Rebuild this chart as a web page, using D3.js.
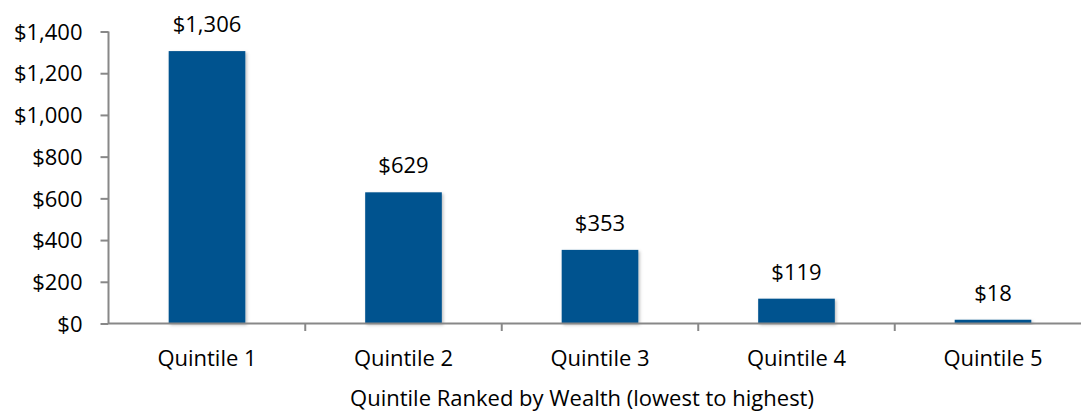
<!DOCTYPE html>
<html><head><meta charset="utf-8">
<script src="https://cdn.jsdelivr.net/npm/d3@7"></script>
<style>body{margin:0;background:#fff}svg{display:block}text{font-family:"Open Sans",Lato,sans-serif;fill:#000}</style>
</head><body>
<svg id="c" width="1081" height="411"></svg>
<script>
const categories = ["Quintile 1","Quintile 2","Quintile 3","Quintile 4","Quintile 5"];
const values = [1306, 629, 353, 119, 18];
const yTicks = [0,200,400,600,800,1000,1200,1400];
const xTitle = "Quintile Ranked by Wealth (lowest to highest)";

const svg = d3.select("#c");
const defs = svg.append("defs");
const f = defs.append("filter").attr("id","sh").attr("x","-20%").attr("y","-20%").attr("width","150%").attr("height","150%");
f.append("feDropShadow").attr("dx",1.5).attr("dy",1.5).attr("stdDeviation",1.5).attr("flood-color","#000").attr("flood-opacity",0.25);

const x = d3.scaleBand().domain(categories).range([108.75, 1091.25]).paddingInner(0.61).paddingOuter(0.305);
const y = d3.scaleLinear().domain([0,1400]).range([323.5, 31.5]);
const fmt = d => "$" + d3.format(",")(d);
const FS = "22px";

svg.append("g").selectAll("rect").data(values).join("rect")
  .attr("x",(d,i)=>x(categories[i])).attr("width",x.bandwidth())
  .attr("y",d=>y(d)).attr("height",d=>y(0)-y(d))
  .attr("fill","#03528f").attr("filter","url(#sh)");

const gy = svg.append("g").attr("transform","translate(108.5,0)")
  .call(d3.axisLeft(y).tickValues(yTicks).tickFormat(fmt).tickSize(8).tickPadding(18));
gy.select(".domain").attr("stroke","#888").attr("stroke-width",2).attr("d","M0,31.5V324");
gy.selectAll(".tick line").attr("stroke","#888").attr("stroke-width",2);
gy.selectAll(".tick text").style("font-size",FS).attr("dy","0.35em");

const gx = svg.append("g").attr("transform","translate(0,323.5)")
  .call(d3.axisBottom(x).tickSize(0).tickPadding(27));
gx.select(".domain").attr("stroke","#888").attr("stroke-width",2).attr("d","M108.5,0H1081");
gx.selectAll(".tick text").style("font-size",FS);
const edges = categories.slice(1).map(c => x(c) - x.step()*x.paddingInner()/2);
svg.append("g").selectAll("line").data(edges).join("line")
  .attr("x1",d=>d).attr("x2",d=>d).attr("y1",323.5).attr("y2",331)
  .attr("stroke","#888").attr("stroke-width",2);

svg.append("g").selectAll("text").data(values).join("text")
  .attr("x",(d,i)=>x(categories[i])+x.bandwidth()/2).attr("y",d=>y(d)-19)
  .attr("text-anchor","middle").style("font-size",FS).text(fmt);

svg.append("text").attr("x",582).attr("y",406).attr("text-anchor","middle")
  .style("font-size",FS).text(xTitle);
</script>
</body></html>
